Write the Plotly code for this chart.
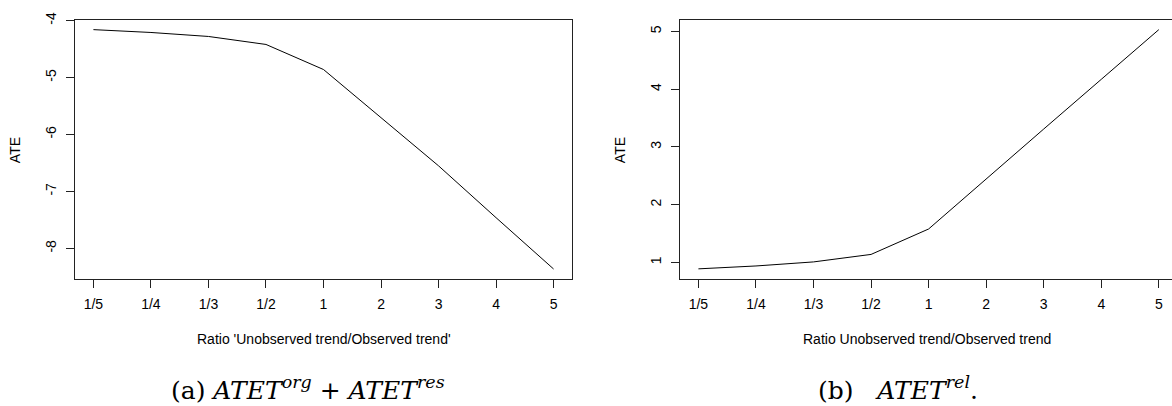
import plotly.graph_objects as go

ratios = ["1/5", "1/4", "1/3", "1/2", "1", "2", "3", "4", "5"]
ate_a = [-4.16, -4.21, -4.28, -4.42, -4.86, -5.70, -6.55, -7.46, -8.36]
ate_b = [0.89, 0.94, 1.01, 1.14, 1.58, 2.45, 3.31, 4.17, 5.03]
yticks_a = [-8, -7, -6, -5, -4]
yticks_b = [1, 2, 3, 4, 5]

W, H = 1172, 406
fig = go.Figure()
fig.add_trace(go.Scatter(x=ratios, y=ate_a, mode="lines", line=dict(color="black", width=1),
                         xaxis="x", yaxis="y", showlegend=False))
fig.add_trace(go.Scatter(x=ratios, y=ate_b, mode="lines", line=dict(color="black", width=1),
                         xaxis="x2", yaxis="y2", showlegend=False))

axfont = dict(family="Liberation Sans, Arial, sans-serif", size=14, color="black")
ydom = [1 - 276 / H, 1 - 12.3 / H]

common_x = dict(type="category", categoryorder="array", categoryarray=ratios,
                showline=True, linecolor="#222", linewidth=1, mirror=True,
                ticks="outside", ticklen=8, tickcolor="#222", tickwidth=1,
                showgrid=False, zeroline=False, tickfont=axfont, ticklabelstandoff=5)
common_y = dict(showline=True, linecolor="#222", linewidth=1,
                ticks="outside", ticklen=8, tickcolor="#222", tickwidth=1,
                showgrid=False, zeroline=False, tickfont=axfont, tickangle=-90,
                ticklabelstandoff=4)

fig.update_layout(
    width=W, height=H, margin=dict(l=0, r=0, t=0, b=0),
    paper_bgcolor="white", plot_bgcolor="white",
    xaxis=dict(common_x, domain=[75 / W, 572 / W], range=[-0.32, 8.32], anchor="y"),
    yaxis=dict(common_y, domain=ydom, range=[-8.528, -3.992], tickvals=yticks_a,
               ticktext=[str(v) for v in yticks_a], mirror=True, anchor="x"),
    xaxis2=dict(common_x, domain=[680 / W, 1.0], range=[-0.32, 8.229], anchor="y2"),
    yaxis2=dict(common_y, domain=ydom, range=[0.722, 5.196], tickvals=yticks_b,
                ticktext=[str(v) for v in yticks_b], mirror=False, anchor="x2"),
)

ann = []
for xc in (15, 620):
    ann.append(dict(text="ATE", x=xc / W, y=1 - 145 / H, xref="paper", yref="paper",
                    textangle=-90, showarrow=False, font=axfont,
                    xanchor="center", yanchor="middle"))
ann.append(dict(text="Ratio 'Unobserved trend/Observed trend'", x=323.5 / W, y=1 - 338 / H,
                xref="paper", yref="paper", showarrow=False, font=axfont,
                xanchor="center", yanchor="middle"))
ann.append(dict(text="Ratio Unobserved trend/Observed trend", x=927 / W, y=1 - 338 / H,
                xref="paper", yref="paper", showarrow=False, font=axfont,
                xanchor="center", yanchor="middle"))
capfont = dict(family="DejaVu Serif, serif", size=25, color="black")
ann.append(dict(text="(a) <i>ATET</i><sup><i>org</i></sup> + <i>ATET</i><sup><i>res</i></sup>",
                x=308 / W, y=1 - 388 / H, xref="paper", yref="paper", showarrow=False,
                font=capfont, xanchor="center", yanchor="middle"))
ann.append(dict(text="(b)&nbsp;&nbsp; <i>ATET</i><sup><i>rel</i></sup>.",
                x=898 / W, y=1 - 388 / H, xref="paper", yref="paper", showarrow=False,
                font=capfont, xanchor="center", yanchor="middle"))
fig.update_layout(annotations=ann)

fig.write_html("out.html", config={"displayModeBar": False},
               post_script="document.body.style.margin='0';document.body.style.overflow='hidden';")
